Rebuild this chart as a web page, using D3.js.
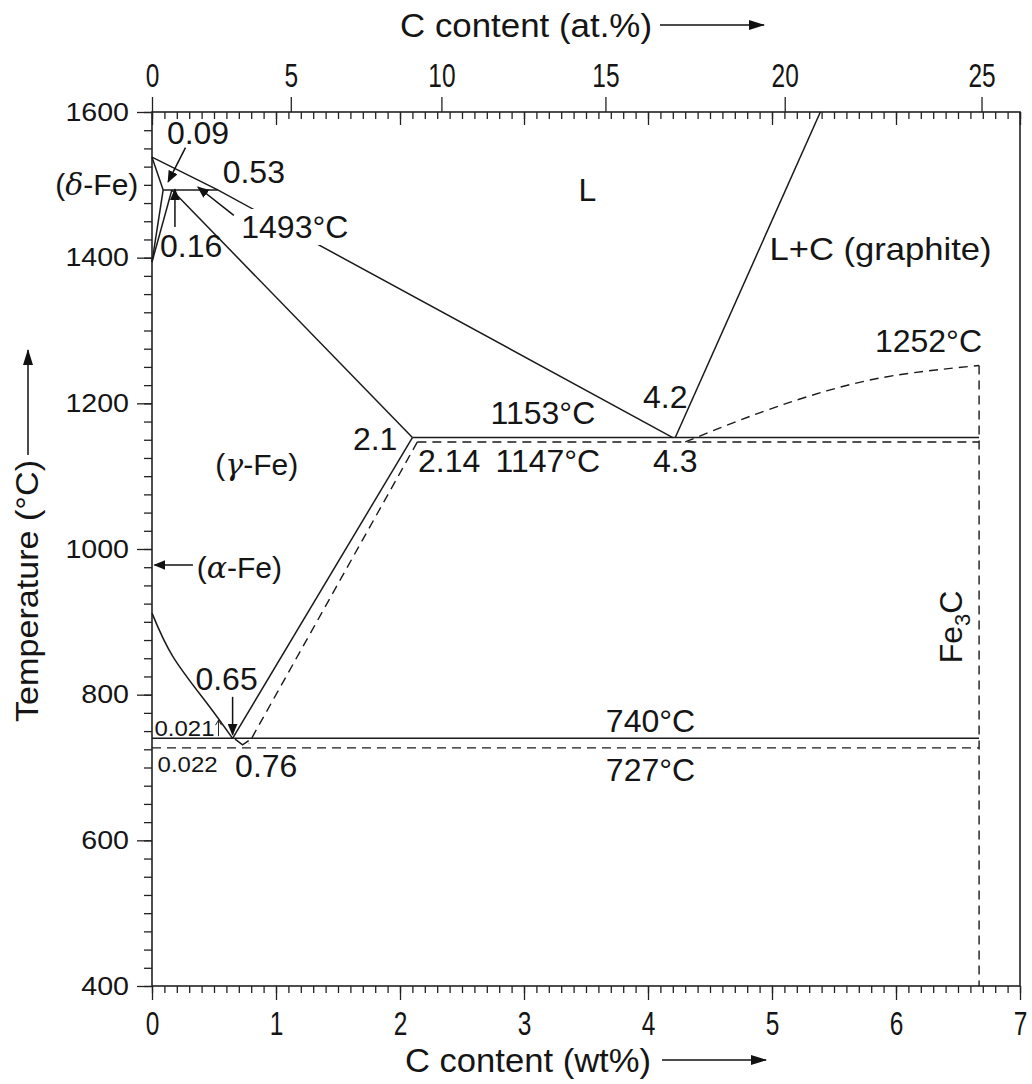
<!DOCTYPE html>
<html>
<head>
<meta charset="utf-8">
<script src="https://cdn.jsdelivr.net/npm/d3@7"></script>
<style>
  body { margin: 0; background: #fff; }
  svg text { font-family: "Liberation Sans", Arial, Helvetica, sans-serif; fill: #151515; }
</style>
</head>
<body>
<svg id="chart" width="1032" height="1084"></svg>
<script>
// ---- tick values ----
var wtTicks = [0, 1, 2, 3, 4, 5, 6, 7];
var atTicks = [0, 5, 10, 15, 20, 25];
var tempTicks = [400, 600, 800, 1000, 1200, 1400, 1600];

// ---- solid lines: Fe - graphite (stable) [wt%, degC] ----
var liquidus = [[0, 1538], [0.53, 1493], [4.2, 1153]];
var deltaSolidus = [[0, 1538], [0.09, 1493]];
var deltaSolvus = [[0.09, 1493], [0, 1394]];
var gammaDelta = [[0.16, 1493], [0, 1394]];
var peritectic = [[0.09, 1493], [0.53, 1493]];
var gammaSolidus = [[0.16, 1493], [2.1, 1153]];
var graphiteLiquidus = [[4.22, 1153], [5.39, 1600]];
var eutectic = [[2.1, 1153], [6.67, 1153]];
var acm = [[2.1, 1153], [0.65, 740]];
var a3 = [[0, 912], [0.17, 852], [0.44, 789], [0.65, 740]];
var eutectoid = [[0, 740], [6.67, 740]];
var eutectoidKink = [[0.67, 739], [0.73, 731], [0.78, 737]];

// ---- dashed lines: Fe - Fe3C (metastable) ----
var eutecticMeta = [[2.14, 1147], [6.67, 1147]];
var acmMeta = [[2.14, 1147], [0.78, 733]];
var cementiteLiquidus = [[4.3, 1147], [4.9, 1187], [5.44, 1217], [5.98, 1238], [6.67, 1252]];
var cementite = [[6.67, 1252], [6.67, 400]];
var eutectoidMeta = [[0, 727], [6.67, 727]];

// ---- labels: text, wt%, degC (left baseline) ----
var labelText = ["0.09", "0.53", "L", "1493°C", "0.16", "L+C (graphite)", "1252°C", "4.2", "1153°C",
                 "2.1", "2.14", "1147°C", "4.3", "0.65", "740°C", "0.76", "727°C"];
var labelWt =   [0.12, 0.57, 3.44, 0.72, 0.065, 4.98, 5.83, 3.96, 2.73,
                 1.62, 2.145, 2.77, 4.04, 0.35, 3.66, 0.67, 3.66];
var labelT =    [1556, 1502, 1478, 1427, 1401, 1397, 1270, 1193, 1172,
                 1136, 1106, 1106, 1106, 806, 749, 687, 681];
var smallText = ["0.021", "0.022"];
var smallWt = [0.02, 0.045];
var smallT = [743, 694];

// ---- arrows: [fromWt, fromT, toWt, toT] ----
var arrows = [
  [0.27, 1551, 0.13, 1504],
  [0.185, 1442, 0.185, 1494],
  [0.66, 1458, 0.37, 1497],
  [0.65, 797, 0.65, 745],
  [0.33, 978, 0.02, 978]
];

var svg = d3.select("#chart");
var x = d3.scaleLinear().domain([0, 7]).range([152, 1020]);
var y = d3.scaleLinear().domain([400, 1600]).range([986, 112]);

// wt% <-> at% (C = 12.011, Fe = 55.845)
function atToWt(a) {
  var c = a * 12.011, f = (100 - a) * 55.845;
  return 100 * c / (c + f);
}

var defs = svg.append("defs");
defs.append("marker").attr("id", "head")
    .attr("viewBox", "0 0 12 10").attr("refX", 11).attr("refY", 5)
    .attr("markerWidth", 12).attr("markerHeight", 10).attr("markerUnits", "userSpaceOnUse")
    .attr("orient", "auto")
  .append("path").attr("d", "M0,0 L12,5 L0,10 Z").attr("fill", "#111");
defs.append("marker").attr("id", "headBig")
    .attr("viewBox", "0 0 16 10").attr("refX", 15).attr("refY", 5)
    .attr("markerWidth", 16).attr("markerHeight", 10).attr("markerUnits", "userSpaceOnUse")
    .attr("orient", "auto")
  .append("path").attr("d", "M0,0 L16,5 L0,10 Z").attr("fill", "#111");

// ---- axes ----
function styleAxis(g) {
  g.select(".domain").remove();
  g.selectAll("line").attr("stroke", "#222").attr("stroke-width", 1.3);
  g.selectAll("text").attr("fill", "#151515").attr("font-family", "Liberation Sans, Arial, sans-serif");
}

var yBottom = y.range()[0], yTop = y.range()[1];
var xLeft = x.range()[0], xRight = x.range()[1];

svg.append("g").attr("transform", "translate(0," + yBottom + ")")
   .call(d3.axisBottom(x).tickValues(d3.range(0, 7.001, 0.1)).tickSize(7).tickFormat(""))
   .call(styleAxis);
var gB = svg.append("g").attr("transform", "translate(0," + yBottom + ")")
   .call(d3.axisBottom(x).tickValues(wtTicks).tickSize(14).tickPadding(11).tickFormat(d3.format("d")))
   .call(styleAxis);
gB.selectAll("text").attr("font-size", 34).attr("transform", "scale(0.72,1)");

svg.append("g").attr("transform", "translate(0," + yTop + ")")
   .call(d3.axisTop(x).tickValues(d3.range(0, 7.001, 0.1)).tickSize(-7).tickFormat(""))
   .call(styleAxis);
svg.append("g").attr("transform", "translate(0," + yTop + ")")
   .call(d3.axisTop(x).tickValues(wtTicks).tickSize(-13).tickFormat(""))
   .call(styleAxis);
var gT = svg.append("g").attr("transform", "translate(0," + yTop + ")")
   .call(d3.axisTop(x).tickValues(atTicks.map(atToWt)).tickSize(15).tickPadding(10)
         .tickFormat(function (d, i) { return atTicks[i]; }))
   .call(styleAxis);
gT.selectAll("text").attr("font-size", 34).attr("transform", "scale(0.72,1)");

svg.append("g").attr("transform", "translate(" + xLeft + ",0)")
   .call(d3.axisLeft(y).tickValues(d3.range(400, 1601, 25)).tickSize(8).tickFormat(""))
   .call(styleAxis);
var gL = svg.append("g").attr("transform", "translate(" + xLeft + ",0)")
   .call(d3.axisLeft(y).tickValues(tempTicks).tickSize(15).tickPadding(8).tickFormat(d3.format("d")))
   .call(styleAxis);
gL.selectAll("text").attr("font-size", 26).attr("transform", "scale(1.1,1)")
   .attr("x", -23 / 1.1);

svg.append("rect")
   .attr("x", xLeft).attr("y", yTop).attr("width", xRight - xLeft).attr("height", yBottom - yTop)
   .attr("fill", "none").attr("stroke", "#222").attr("stroke-width", 1.6);

// ---- phase boundaries ----
var line = d3.line().x(function (d) { return x(d[0]); }).y(function (d) { return y(d[1]); });
var curve = d3.line().curve(d3.curveNatural).x(function (d) { return x(d[0]); }).y(function (d) { return y(d[1]); });

var solid = [liquidus, deltaSolidus, deltaSolvus, gammaDelta, peritectic, gammaSolidus,
             graphiteLiquidus, eutectic, acm, eutectoid, eutectoidKink];
var dashed = [eutecticMeta, acmMeta, cementite, eutectoidMeta];

var lines = svg.append("g").attr("fill", "none").attr("stroke", "#1a1a1a");
lines.selectAll("path.solid").data(solid).enter().append("path")
     .attr("class", "solid").attr("stroke-width", 1.5).attr("d", line);
lines.append("path").attr("stroke-width", 1.5).attr("d", curve(a3));
lines.selectAll("path.dash").data(dashed).enter().append("path")
     .attr("class", "dash").attr("stroke-width", 1.4).attr("stroke-dasharray", "9,6").attr("d", line);
lines.append("path").attr("stroke-width", 1.4).attr("stroke-dasharray", "9,6").attr("d", curve(cementiteLiquidus));

// ---- labels ----
var lab = svg.append("g");
labelText.forEach(function (t, i) {
  var txt = lab.append("text").attr("x", x(labelWt[i])).attr("y", y(labelT[i]))
     .attr("font-size", 32).text(t);
  if (t === "L+C (graphite)") {
    txt.attr("textLength", 222).attr("lengthAdjust", "spacingAndGlyphs");
  }
  if (t === "1493°C") {
    var b = txt.node().getBBox();
    lab.insert("rect", "text").attr("x", b.x - 4).attr("y", b.y).attr("width", b.width + 8)
       .attr("height", b.height).attr("fill", "#fff");
  }
});
smallText.forEach(function (t, i) {
  lab.append("text").attr("x", x(smallWt[i])).attr("y", y(smallT[i]))
     .attr("font-size", 22).attr("textLength", 60).attr("lengthAdjust", "spacingAndGlyphs").text(t);
});
// tiny arrow after 0.021
var ax = x(0.02) + 64, ay = y(743);
lab.append("path").attr("stroke", "#222").attr("stroke-width", 1).attr("fill", "none")
   .attr("d", "M" + ax + "," + ay + "V" + (ay - 16) +
              "M" + (ax - 3) + "," + (ay - 11) + "L" + ax + "," + (ay - 16) + "L" + (ax + 3) + "," + (ay - 11));

// phase names with greek letters
function phase(g, wt, t, letter, anchor) {
  var tx = g.append("text").attr("x", x(wt)).attr("y", y(t)).attr("font-size", 30)
            .attr("text-anchor", anchor || "start");
  tx.append("tspan").text("(");
  tx.append("tspan").attr("font-family", "DejaVu Serif, serif").attr("font-style", "italic").text(letter);
  tx.append("tspan").text("-Fe)");
}
phase(lab, -0.11, 1486, "δ", "end");
phase(lab, 0.51, 1102, "γ");
phase(lab, 0.36, 960, "α");

// Fe3C rotated
var fe = lab.append("text").attr("font-size", 32)
   .attr("transform", "translate(" + x(6.53) + "," + y(843) + ") rotate(-90)");
fe.append("tspan").text("Fe");
fe.append("tspan").attr("font-size", 22).attr("dy", 8).text("3");
fe.append("tspan").attr("dy", -8).text("C");

// arrows
lab.selectAll("line.arrow").data(arrows).enter().append("line")
   .attr("class", "arrow")
   .attr("x1", function (d) { return x(d[0]); }).attr("y1", function (d) { return y(d[1]); })
   .attr("x2", function (d) { return x(d[2]); }).attr("y2", function (d) { return y(d[3]); })
   .attr("stroke", "#111").attr("stroke-width", 1.5).attr("marker-end", "url(#head)");

// ---- axis titles ----
svg.append("text").attr("x", 400).attr("y", 37).attr("font-size", 34)
   .attr("textLength", 252).attr("lengthAdjust", "spacingAndGlyphs").text("C content (at.%)");
svg.append("line").attr("x1", 660).attr("x2", 764).attr("y1", 25).attr("y2", 25)
   .attr("stroke", "#111").attr("stroke-width", 1.5).attr("marker-end", "url(#headBig)");

svg.append("text").attr("x", 405).attr("y", 1072).attr("font-size", 34)
   .attr("textLength", 246).attr("lengthAdjust", "spacingAndGlyphs").text("C content (wt%)");
svg.append("line").attr("x1", 662).attr("x2", 766).attr("y1", 1060).attr("y2", 1060)
   .attr("stroke", "#111").attr("stroke-width", 1.5).attr("marker-end", "url(#headBig)");

svg.append("text").attr("transform", "translate(38,722) rotate(-90)").attr("font-size", 32)
   .attr("textLength", 262).attr("lengthAdjust", "spacingAndGlyphs").text("Temperature (°C)");
svg.append("line").attr("x1", 28).attr("x2", 28).attr("y1", 455).attr("y2", 350)
   .attr("stroke", "#111").attr("stroke-width", 1.5).attr("marker-end", "url(#headBig)");
</script>
</body>
</html>
